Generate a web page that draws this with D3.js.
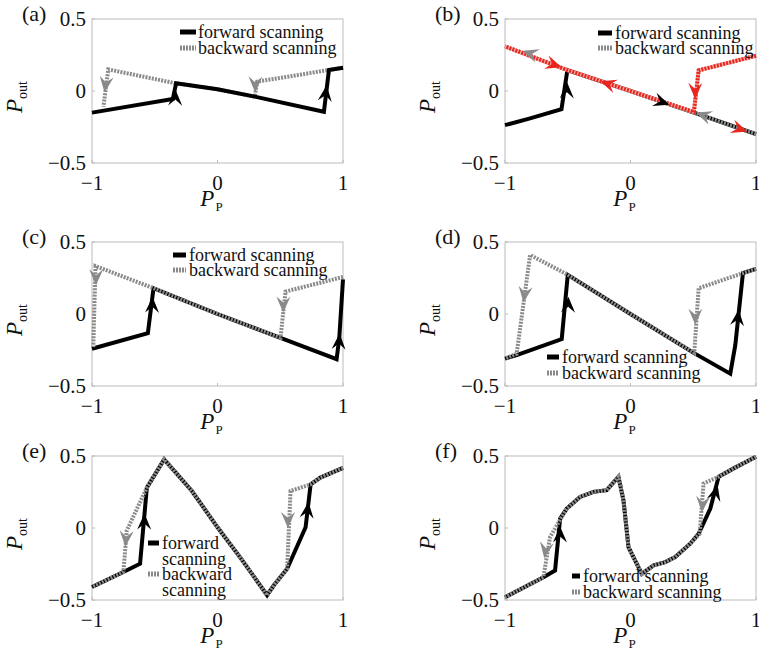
<!DOCTYPE html>
<html lang="en">
<head>
<meta charset="UTF-8">
<title>Forward and backward scanning</title>
<style>
  body { margin: 0; background: #fff; }
  text { font-family: "Liberation Serif", "Times New Roman", serif; fill: #111; }
</style>
</head>
<body>
<div id="chart"></div>
<script src="https://d3js.org/d3.v7.min.js"></script>
<script>
var xTicks = [-1, 0, 1];
var yTicks = [-0.5, 0, 0.5];
var yTickLabels = ['\u22120.5', '0', '0.5'];
var xTickLabels = ['\u22121', '0', '1'];
var panelNames = ['(a)', '(b)', '(c)', '(d)', '(e)', '(f)'];

// [Pp, Pout]
var fwdA = [[-1,-0.15],[-0.356,-0.056],[-0.33,0.053],[0,0.012],[0.297,-0.039],[0.848,-0.144],[0.888,0.146],[1,0.162]];
var bwdA = [[1,0.162],[0.888,0.146],[0.316,0.065],[0.297,-0.039],[0,0.012],[-0.33,0.053],[-0.87,0.15],[-0.909,-0.109]];
// arrows: [x, y, dx, dy]
var fwdArrowsA = [[-0.335,0.01,0.02,1],[0.87,0.04,0.04,0.29]];
var bwdArrowsA = [[0.3,-0.01,-0.02,-1],[-0.9,-0.01,-0.04,-0.26]];

var fwdB = [[-1,-0.237],[-0.8,-0.19],[-0.55,-0.127],[-0.503,0.145],[0,0],[0.5,-0.148],[1,-0.3]];
var bwdB = [[1,-0.3],[0.5,-0.148],[0,0],[-0.503,0.145],[-1,0.31]];
var redB = [[1,0.245],[0.543,0.143],[0.505,-0.146],[0,0],[-0.503,0.145],[-1,0.31]];
var fwdArrowsB = [[-0.505,0.06,0.02,1],[0.31,-0.095,1,-0.3]];
var bwdArrowsB = [[0.52,-0.15,-1,0.3],[-0.86,0.28,-1,0.3]];
var redArrowsB = [[-0.55,0.165,1,-0.3],[-0.24,0.068,-1,0.3],[0.515,-0.055,-0.01,-1],[0.93,-0.282,1,-0.3]];

var fwdC = [[-1,-0.241],[-0.555,-0.133],[-0.51,0.179],[0,0],[0.502,-0.165],[0.949,-0.314],[0.97,-0.17],[1,0.24]];
var bwdC = [[1,0.257],[0.542,0.156],[0.502,-0.165],[0,0],[-0.51,0.179],[-0.972,0.333],[-0.99,-0.23]];
var fwdArrowsC = [[-0.518,0.12,0.03,1],[0.973,-0.135,0.03,0.4]];
var bwdArrowsC = [[-0.968,0.2,-0.01,-1],[0.523,0.01,-0.02,-1]];

var fwdD = [[-1,-0.31],[-0.907,-0.286],[-0.548,-0.174],[-0.5,0.272],[0,0],[0.503,-0.27],[0.795,-0.414],[0.835,-0.216],[0.896,0.284],[1,0.314]];
var bwdD = [[1,0.314],[0.896,0.284],[0.543,0.179],[0.508,-0.27],[0,0],[-0.5,0.272],[-0.8,0.41],[-0.907,-0.276],[-1,-0.31]];
var fwdArrowsD = [[-0.495,0.12,0.02,1],[0.862,0.03,0.06,0.5]];
var bwdArrowsD = [[-0.853,0.08,-0.107,-0.686],[0.516,-0.075,-0.01,-1]];

var fwdE = [[-1,-0.41],[-0.75,-0.306],[-0.617,-0.248],[-0.563,0.28],[-0.425,0.476],[-0.204,0.257],[0,0.005],[0.198,-0.225],[0.395,-0.467],[0.449,-0.398],[0.555,-0.283],[0.702,0.005],[0.742,0.303],[0.82,0.35],[1,0.418]];
var bwdE = [[1,0.418],[0.82,0.35],[0.742,0.303],[0.582,0.257],[0.555,-0.283],[0.449,-0.398],[0.395,-0.467],[0.198,-0.225],[0,0.005],[-0.204,0.257],[-0.425,0.476],[-0.563,0.28],[-0.723,-0.018],[-0.75,-0.306],[-1,-0.41]];
var fwdArrowsE = [[-0.582,0.1,0.02,1],[0.725,0.18,0.04,0.3]];
var bwdArrowsE = [[-0.734,-0.13,-0.027,-0.288],[0.561,0.0,-0.01,-1]];

var fwdF = [[-1,-0.481],[-0.694,-0.342],[-0.601,-0.295],[-0.561,0.065],[-0.508,0.135],[-0.402,0.216],[-0.295,0.251],[-0.189,0.263],[-0.096,0.356],[-0.056,0.193],[-0.016,-0.133],[0.09,-0.319],[0.184,-0.26],[0.277,-0.237],[0.356,-0.202],[0.476,-0.109],[0.543,-0.04],[0.636,0.135],[0.702,0.356],[0.822,0.414],[1,0.495]];
var bwdF = [[1,0.495],[0.822,0.414],[0.702,0.356],[0.582,0.309],[0.551,-0.04],[0.476,-0.109],[0.356,-0.202],[0.277,-0.237],[0.184,-0.26],[0.09,-0.319],[-0.016,-0.133],[-0.056,0.193],[-0.096,0.356],[-0.189,0.263],[-0.295,0.251],[-0.402,0.216],[-0.508,0.135],[-0.641,-0.063],[-0.694,-0.342],[-1,-0.481]];
var fwdArrowsF = [[-0.561,0.01,0.01,1],[0.694,0.3,0.066,0.221]];
var bwdArrowsF = [[-0.687,-0.21,-0.053,-0.279],[0.569,0.11,-0.031,-0.349]];

var legendLabels = ['forward scanning', 'backward scanning'];

var width = 759, height = 657;
var pw = 251, ph = 144;
var cols = [92, 505], rows = [19, 242, 456];
var gray = '#8a8a8a', red = '#e8261f';

var panels = [
    {fwd: fwdA, bwd: bwdA, fa: fwdArrowsA, ba: bwdArrowsA, grayBelow: true,
     legend: {sx: 88, sw: 16, tx: 106, ys: [13, 29]}},
    {fwd: fwdB, bwd: bwdB, fa: fwdArrowsB, ba: bwdArrowsB, red: redB, ra: redArrowsB,
     legend: {sx: 93, sw: 14, tx: 110, ys: [14, 29]}},
    {fwd: fwdC, bwd: bwdC, fa: fwdArrowsC, ba: bwdArrowsC,
     legend: {sx: 81, sw: 13, tx: 97, ys: [13, 28]}},
    {fwd: fwdD, bwd: bwdD, fa: fwdArrowsD, ba: bwdArrowsD,
     legend: {sx: 42, sw: 12, tx: 57, ys: [115, 131]}},
    {fwd: fwdE, bwd: bwdE, fa: fwdArrowsE, ba: bwdArrowsE,
     legend: {sx: 56, sw: 11, tx: 70, ys: [87, 118], split: true}},
    {fwd: fwdF, bwd: bwdF, fa: fwdArrowsF, ba: bwdArrowsF,
     legend: {sx: 67, sw: 8, tx: 78, ys: [120, 136]}}
];

var svg = d3.select('#chart')
    .append('svg')
    .attr('width', width)
    .attr('height', height);

var x = d3.scaleLinear().domain([-1, 1]).range([0, pw]);
var y = d3.scaleLinear().domain([-0.5, 0.5]).range([ph, 0]);

var line = d3.line()
    .x(function(d) { return x(d[0]); })
    .y(function(d) { return y(d[1]); });

// notched arrow head, tip at origin pointing to +x
var headPath = 'M0,0 L-16,-7 L-10,0 L-16,7 Z';

function drawArrows(g, list, colour) {
    g.selectAll(null)
        .data(list)
        .enter().append('path')
        .attr('d', headPath)
        .attr('fill', colour)
        .attr('transform', function(d) {
            var px = x(d[0]), py = y(d[1]);
            var ang = Math.atan2(y(d[1] + d[3]) - py, x(d[0] + d[2]) - px) * 180 / Math.PI;
            return 'translate(' + px + ',' + py + ') rotate(' + ang + ')';
        });
}

function drawFwd(g, data) {
    g.append('path').datum(data)
        .attr('d', line)
        .attr('fill', 'none')
        .attr('stroke', '#000')
        .attr('stroke-width', 4);
}

function drawBwd(g, data) {
    g.append('path').datum(data)
        .attr('d', line)
        .attr('fill', 'none')
        .attr('stroke', gray)
        .attr('stroke-width', 4)
        .attr('stroke-dasharray', '2,1.2');
}

panels.forEach(function(p, i) {
    var left = cols[i % 2], top = rows[Math.floor(i / 2)];
    var g = svg.append('g')
        .attr('transform', 'translate(' + left + ',' + top + ')');

    g.append('rect')
        .attr('width', pw)
        .attr('height', ph)
        .attr('fill', 'none')
        .attr('stroke', '#bcbcbc')
        .attr('stroke-width', 1);

    // ticks
    g.selectAll(null).data(xTicks).enter().append('line')
        .attr('x1', function(d) { return x(d); }).attr('x2', function(d) { return x(d); })
        .attr('y1', ph).attr('y2', ph - 3)
        .attr('stroke', '#bcbcbc');
    g.selectAll(null).data(yTicks).enter().append('line')
        .attr('x1', 0).attr('x2', 3)
        .attr('y1', function(d) { return y(d); }).attr('y2', function(d) { return y(d); })
        .attr('stroke', '#bcbcbc');

    g.selectAll(null).data(xTicks).enter().append('text')
        .attr('x', function(d) { return x(d); })
        .attr('y', ph + 27)
        .attr('text-anchor', 'middle')
        .style('font-size', '21px')
        .text(function(d, j) { return xTickLabels[j]; });

    g.selectAll(null).data(yTicks).enter().append('text')
        .attr('x', -6)
        .attr('y', function(d) { return y(d); })
        .attr('dy', '0.35em')
        .attr('text-anchor', 'end')
        .style('font-size', '21px')
        .text(function(d, j) { return yTickLabels[j]; });

    // axis titles
    var xt = g.append('text')
        .attr('x', pw / 2 - 6)
        .attr('y', ph + 43)
        .attr('text-anchor', 'middle');
    xt.append('tspan').style('font-size', '23px').style('font-style', 'italic').text('P');
    xt.append('tspan').style('font-size', '13px').attr('dx', 1).attr('dy', 5).text('P');

    var yt = g.append('text')
        .attr('transform', 'translate(-70,' + (ph / 2 + 6) + ') rotate(-90)')
        .attr('text-anchor', 'middle');
    yt.append('tspan').style('font-size', '23px').style('font-style', 'italic').text('P');
    yt.append('tspan').style('font-size', '14px').attr('dy', 5).text('out');

    g.append('text')
        .attr('x', -70)
        .attr('y', 2)
        .style('font-size', '22px')
        .text(panelNames[i]);

    // curves
    if (p.grayBelow) {
        drawBwd(g, p.bwd);
        drawFwd(g, p.fwd);
    } else {
        drawFwd(g, p.fwd);
        drawBwd(g, p.bwd);
    }
    if (p.red) {
        g.append('path').datum(p.red)
            .attr('d', line)
            .attr('fill', 'none')
            .attr('stroke', '#f6b3ad')
            .attr('stroke-width', 4);
        g.append('path').datum(p.red)
            .attr('d', line)
            .attr('fill', 'none')
            .attr('stroke', red)
            .attr('stroke-width', 4)
            .attr('stroke-dasharray', '2,1.2');
    }
    drawArrows(g, p.fa, '#000');
    drawArrows(g, p.ba, gray);
    if (p.ra) drawArrows(g, p.ra, red);

    // legend
    var lg = p.legend;
    [0, 1].forEach(function(k) {
        var ly = lg.ys[k];
        var s = g.append('line')
            .attr('x1', lg.sx).attr('x2', lg.sx + lg.sw)
            .attr('y1', ly).attr('y2', ly)
            .attr('stroke-width', 5);
        if (k === 0) s.attr('stroke', '#000');
        else s.attr('stroke', gray).attr('stroke-dasharray', '2,1');
        var words = legendLabels[k].split(' ');
        if (lg.split) {
            words.forEach(function(w, m) {
                g.append('text')
                    .attr('x', lg.tx).attr('y', ly + m * 16)
                    .attr('dy', '0.35em')
                    .style('font-size', '18px')
                    .text(w);
            });
        } else {
            g.append('text')
                .attr('x', lg.tx).attr('y', ly)
                .attr('dy', '0.35em')
                .style('font-size', '18px')
                .text(legendLabels[k]);
        }
    });
});
</script>
</body>
</html>
